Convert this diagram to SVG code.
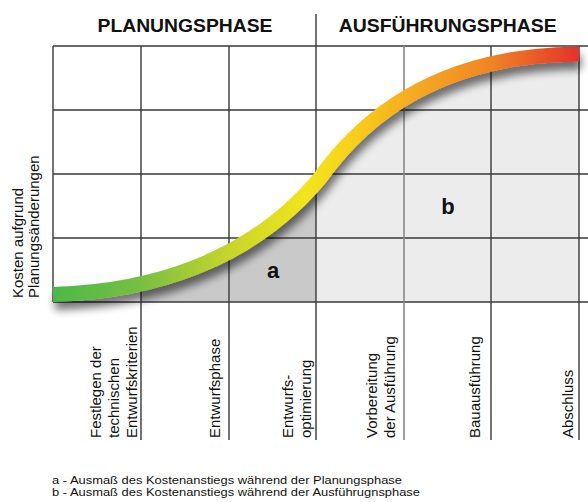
<svg xmlns="http://www.w3.org/2000/svg" width="588" height="502" viewBox="0 0 588 502">
<style>
.hdr{font-family:"Liberation Sans",Arial,sans-serif;font-weight:bold;font-size:19px;fill:#111;text-anchor:middle}
.lbl{font-family:"Liberation Sans",Arial,sans-serif;font-size:15px;fill:#111}
.big{font-family:"Liberation Sans",Arial,sans-serif;font-weight:bold;font-size:22px;fill:#111;text-anchor:middle}
.leg{font-family:"Liberation Sans",Arial,sans-serif;font-size:10.5px;fill:#111}
.g{stroke:#3a3a3a;stroke-width:1.4;fill:none}
.gl{stroke:#8a8a8a;stroke-width:1.6;fill:none}
</style>
<defs>
<linearGradient id="cg" gradientUnits="userSpaceOnUse" x1="53" y1="0" x2="579" y2="0">
<stop offset="0" stop-color="#4db848"/>
<stop offset="0.17" stop-color="#78bf42"/>
<stop offset="0.33" stop-color="#c5d52c"/>
<stop offset="0.48" stop-color="#f2e51a"/>
<stop offset="0.56" stop-color="#f8d21b"/>
<stop offset="0.67" stop-color="#f6ae20"/>
<stop offset="0.83" stop-color="#f08624"/>
<stop offset="1" stop-color="#e5322a"/>
</linearGradient>
<filter id="sh" x="-10%" y="-20%" width="120%" height="150%">
<feGaussianBlur in="SourceAlpha" stdDeviation="4"/>
<feOffset dx="2" dy="8" result="b"/>
<feComponentTransfer in="b" result="c"><feFuncA type="linear" slope="0.55"/></feComponentTransfer>
<feMerge><feMergeNode in="c"/><feMergeNode in="SourceGraphic"/></feMerge>
</filter>
<clipPath id="under">
<path d="M53,294.5 C150,292 250,262 320,178 C365,115 440,55 579,54 L579,302 L53,302 Z"/>
</clipPath>
</defs>
<rect width="588" height="502" fill="#fff"/>
<g id="areas" clip-path="url(#under)">
<rect x="141" y="40" width="175" height="262" fill="#c9c9c9"/>
<rect x="316" y="40" width="263" height="262" fill="#ececec"/>
</g>
<g id="grid">
<line class="g" x1="53" y1="46" x2="588" y2="46"/>
<line class="g" x1="53" y1="110" x2="588" y2="110"/>
<line class="g" x1="53" y1="174" x2="588" y2="174"/>
<line class="g" x1="53" y1="238" x2="588" y2="238"/>
<line class="g" x1="53" y1="302" x2="588" y2="302"/>
<line class="g" x1="53" y1="46" x2="53" y2="302"/>
<line class="g" x1="141" y1="46" x2="141" y2="440"/>
<line class="g" x1="229" y1="46" x2="229" y2="440"/>
<line class="g" x1="316" y1="14" x2="316" y2="440"/>
<line class="gl" x1="404" y1="46" x2="404" y2="440"/>
<line class="g" x1="491" y1="46" x2="491" y2="440"/>
<line class="g" x1="579" y1="46" x2="579" y2="440"/>
</g>
<g id="curve" filter="url(#sh)">
<path d="M53,294.5 C150,292 250,262 320,178 C365,115 440,55 579,54" fill="none" stroke="url(#cg)" stroke-width="15"/>
</g>
<g id="header">
<text class="hdr" x="185" y="32" textLength="175" lengthAdjust="spacingAndGlyphs">PLANUNGSPHASE</text>
<text class="hdr" x="447.7" y="32" textLength="218" lengthAdjust="spacingAndGlyphs">AUSFÜHRUNGSPHASE</text>
</g>
<g id="area-labels">
<text class="big" x="273" y="278">a</text>
<text class="big" x="448" y="214">b</text>
</g>
<g id="yaxis">
<text class="lbl" transform="translate(22.5,298) rotate(-90)">Kosten aufgrund</text>
<text class="lbl" transform="translate(38.7,298) rotate(-90)">Planungsänderungen</text>
</g>
<g id="phases">
<text class="lbl" transform="translate(101,438) rotate(-90)">Festlegen der</text>
<text class="lbl" transform="translate(119,438) rotate(-90)">technischen</text>
<text class="lbl" transform="translate(137,438) rotate(-90)">Entwurfskriterien</text>
<text class="lbl" transform="translate(220,438) rotate(-90)">Entwurfsphase</text>
<text class="lbl" transform="translate(293,438) rotate(-90)">Entwurfs-</text>
<text class="lbl" transform="translate(311,438) rotate(-90)">optimierung</text>
<text class="lbl" transform="translate(377,438) rotate(-90)">Vorbereitung</text>
<text class="lbl" transform="translate(395,438) rotate(-90)">der Ausführung</text>
<text class="lbl" transform="translate(480,438) rotate(-90)">Bauausführung</text>
<text class="lbl" transform="translate(573,438) rotate(-90)">Abschluss</text>
</g>
<g id="legend">
<text class="leg" x="52" y="484" textLength="350" lengthAdjust="spacingAndGlyphs">a - Ausmaß des Kostenanstiegs während der Planungsphase</text>
<text class="leg" x="52" y="496" textLength="368" lengthAdjust="spacingAndGlyphs">b - Ausmaß des Kostenanstiegs während der Ausführugnsphase</text>
</g>
</svg>
